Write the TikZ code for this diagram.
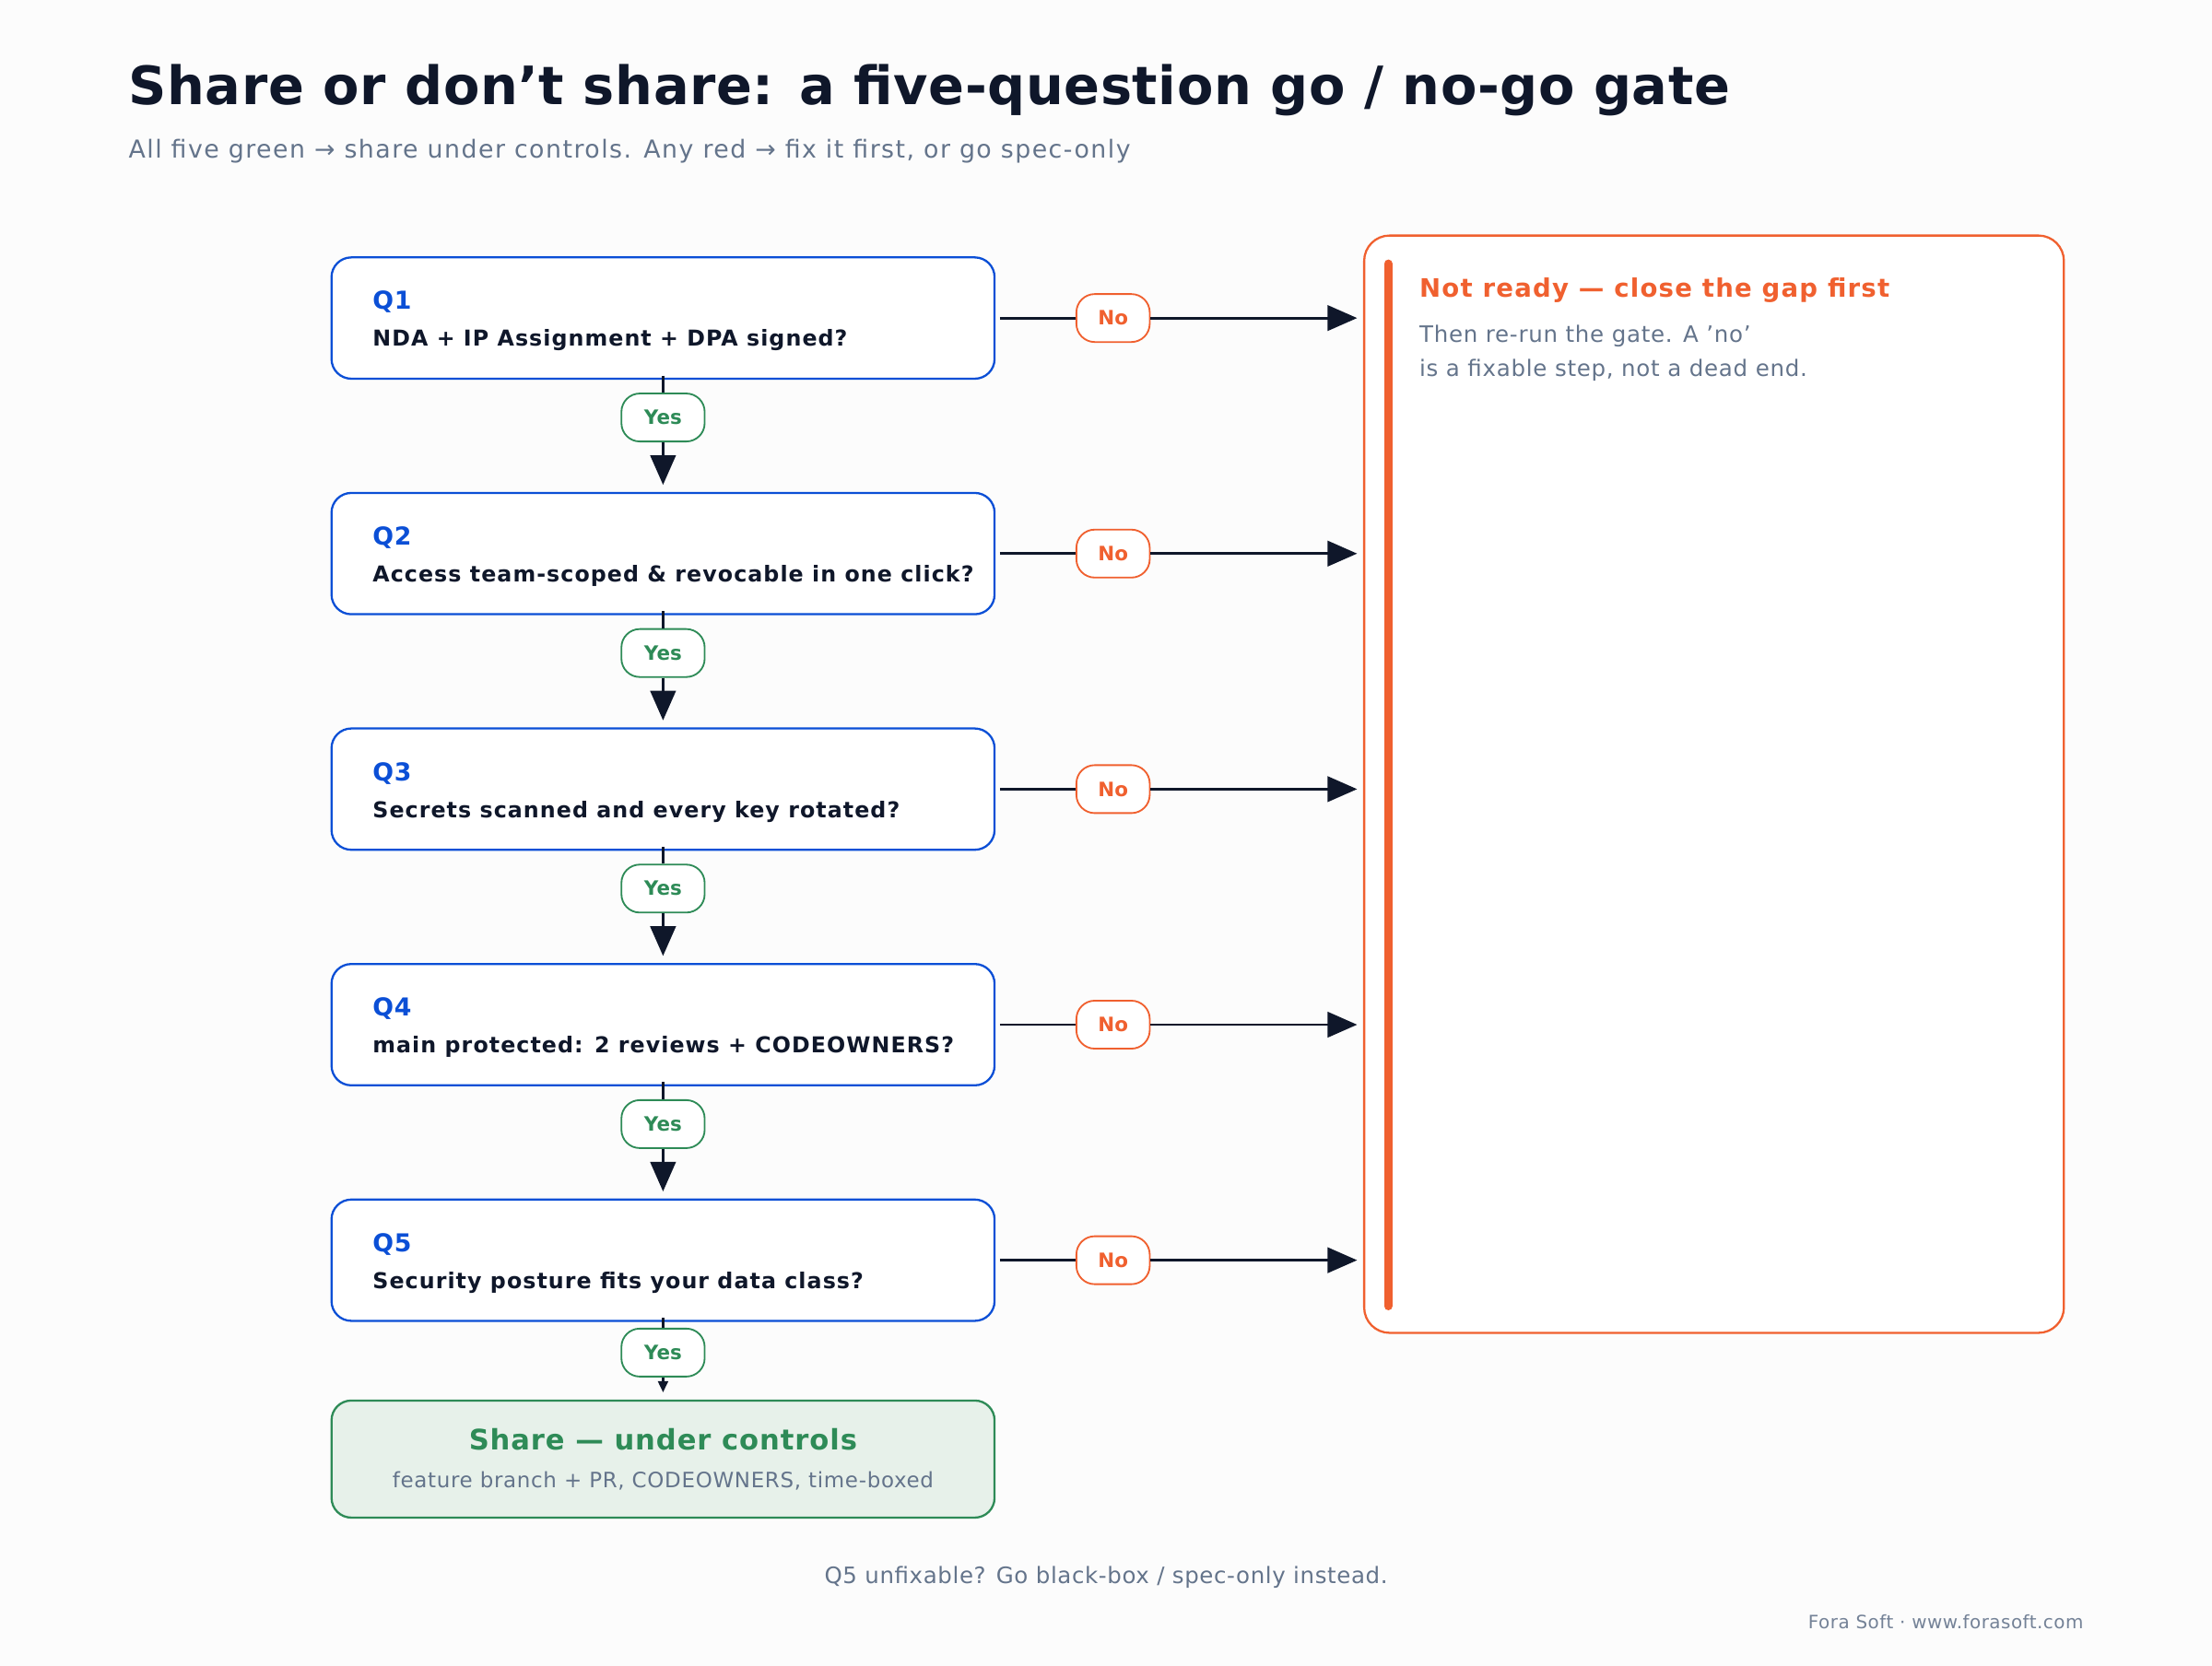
\documentclass[tikz,border=0pt]{standalone}
\usepackage{fontspec}
\setmainfont{DejaVu Sans}
\usetikzlibrary{arrows.meta}
\definecolor{ink}{HTML}{0F172A}
\definecolor{slate}{HTML}{64748B}
\definecolor{qblue}{HTML}{0B4FD6}
\definecolor{ygreen}{HTML}{2E8B57}
\definecolor{nored}{HTML}{F0602F}
\definecolor{sharefill}{HTML}{E7F1EA}
\definecolor{bg}{HTML}{FCFCFC}
\newcommand{\ls}[1]{\addfontfeature{LetterSpace=#1}}
\begin{document}
\begin{tikzpicture}[x=1pt,y=-1pt,
  fs/.style 2 args={font=\fontsize{#1}{#2}\selectfont},
  qbox/.style={draw=qblue,line width=1.5pt,rounded corners=14pt,fill=white,minimum width=470pt,minimum height=86pt},
  ypill/.style={draw=ygreen,line width=1.2pt,rounded corners=13pt,fill=white,minimum width=59pt,minimum height=34pt,text=ygreen,font=\bfseries\fontsize{14}{16}\selectfont,inner sep=0pt},
  npill/.style={draw=nored,line width=1.2pt,rounded corners=13pt,fill=white,minimum width=52pt,minimum height=34pt,text=nored,font=\bfseries\fontsize{14}{16}\selectfont,inner sep=0pt},
  ln/.style={draw=ink,line width=1.8pt},
  arr/.style={ln,-{Triangle[length=21pt,width=18pt]}},
  qlab/.style={anchor=base west,text=qblue,font=\bfseries\fontsize{17.5}{20}\selectfont\ls{3},inner sep=0pt},
  qtxt/.style={anchor=base west,text=ink,font=\bfseries\fontsize{15.5}{18}\selectfont\ls{4.5},inner sep=0pt},
]
\fill[bg] (0,0) rectangle (1568,1181);
\useasboundingbox (0,0) rectangle (1568,1181);
\node[anchor=base west,inner sep=0pt,text=ink,font=\bfseries\fontsize{37.5}{42}\selectfont\ls{1}] (title) at (91,74) {Share or don\symbol{39}t share: a five-question go / no-go gate};
\node[anchor=base west,inner sep=0pt,text=slate,font=\fontsize{17.5}{20}\selectfont\ls{5.5}] (sub) at (91,112) {All five green → share under controls. Any red → fix it first, or go spec-only};

% panel
\draw[nored,line width=1.5pt,rounded corners=18pt,fill=white] (967,167) rectangle (1463,945);
\draw[nored,line width=6pt,line cap=round] (984,187) -- (984,926);
\node[anchor=base west,inner sep=0pt,text=nored,font=\bfseries\fontsize{18}{21}\selectfont\ls{4.5}] (nr) at (1006,211) {Not ready — close the gap first};
\node[anchor=base west,inner sep=0pt,text=slate,font=\fontsize{16}{18}\selectfont\ls{3}] (nr1) at (1006,243) {Then re-run the gate. A \symbol{39}no\symbol{39}};
\node[anchor=base west,inner sep=0pt,text=slate,font=\fontsize{16}{18}\selectfont\ls{3}] (nr2) at (1006,267) {is a fixable step, not a dead end.};

\foreach \i/\t [evaluate=\i as \y using 225.5+167*(\i-1)] in {1/{NDA + IP Assignment + DPA signed?},2/{Access team-scoped \& revocable in one click?},3/{Secrets scanned and every key rotated?},4/{main protected: 2 reviews + CODEOWNERS?},5/{Security posture fits your data class?}}{
  \node[qbox] (q\i) at (470,\y) {};
  \node[qlab] (ql\i) at (264,\y-6) {Q\i};
  \node[qtxt] (qt\i) at (264,\y+20) {\t};
  \node[npill] (no\i) at (789,\y) {No};
  \coordinate (pe\i) at (962,\y);
  \draw[ln] ([xshift=3pt]q\i.east) -- (no\i.west);
  \draw[arr] (no\i.east) -- (pe\i);
}
\foreach \i/\j in {1/2,2/3,3/4,4/5}{
  \node[ypill] (y\i) at (470,{296+167*(\i-1)}) {Yes};
  \draw[ln] ([yshift=3pt]q\i.south) -- (y\i.north);
  \draw[arr,shorten >=5pt] (y\i.south) -- (q\j.north);
}
\node[draw=ygreen,line width=1.5pt,rounded corners=14pt,fill=sharefill,minimum width=470pt,minimum height=83pt] (share) at (470,1034.5) {};
\node[anchor=base,inner sep=0pt,text=ygreen,font=\bfseries\fontsize{20}{23}\selectfont\ls{3}] (sh1) at (470,1028) {Share — under controls};
\node[anchor=base,inner sep=0pt,text=slate,font=\fontsize{15}{17}\selectfont\ls{3}] (sh2) at (470,1055) {feature branch + PR, CODEOWNERS, time-boxed};
\node[ypill] (y5) at (470,959) {Yes};
\draw[ln] ([yshift=3pt]q5.south) -- (y5.north);
\draw[ln,-{Triangle[length=8pt,width=7pt]},shorten >=5pt] (y5.south) -- (share.north);

\node[anchor=base,inner sep=0pt,text=slate,font=\fontsize{16}{18}\selectfont\ls{2.5}] (foot) at (784,1123) {Q5 unfixable? Go black-box / spec-only instead.};
\node[anchor=base east,inner sep=0pt,text=slate!90,font=\fontsize{13}{15}\selectfont\ls{2.5}] (fora) at (1477,1155) {Fora Soft · www.forasoft.com};
\end{tikzpicture}
\end{document}
